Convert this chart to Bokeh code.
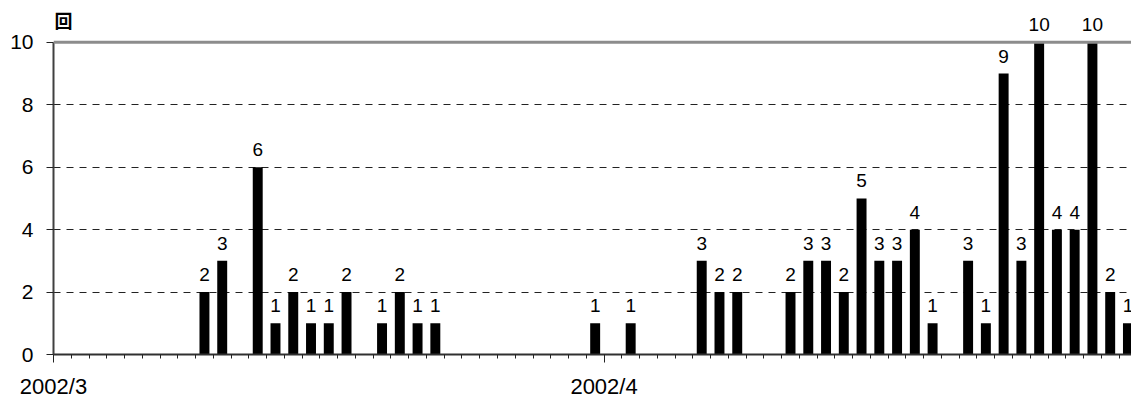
import datetime as dt
from bokeh.plotting import figure
from bokeh.models import ColumnDataSource, Range1d, FixedTicker, Span, Label
from bokeh.core.properties import value
from bokeh.embed import file_html
from bokeh.resources import INLINE

# ---- data ----
start_date = "2002-03-01"
n_days = 61
dates = ["2002-03-09", "2002-03-10", "2002-03-12", "2002-03-13", "2002-03-14",
         "2002-03-15", "2002-03-16", "2002-03-17", "2002-03-19", "2002-03-20",
         "2002-03-21", "2002-03-22", "2002-03-31", "2002-04-02", "2002-04-06",
         "2002-04-07", "2002-04-08", "2002-04-11", "2002-04-12", "2002-04-13",
         "2002-04-14", "2002-04-15", "2002-04-16", "2002-04-17", "2002-04-18",
         "2002-04-19", "2002-04-21", "2002-04-22", "2002-04-23", "2002-04-24",
         "2002-04-25", "2002-04-26", "2002-04-27", "2002-04-28", "2002-04-29",
         "2002-04-30"]
counts = [2, 3, 6, 1, 2, 1, 1, 2, 1, 2, 1, 1, 1, 1, 3, 2, 2, 2, 3, 3, 2, 5, 3, 3, 4,
          1, 3, 1, 9, 3, 10, 4, 4, 10, 2, 1]
month_starts = ["2002-03-01", "2002-04-01"]
month_labels = ["2002/3", "2002/4"]
y_ticks = [0, 2, 4, 6, 8, 10]
unit_label = "回"

d0 = dt.date.fromisoformat(start_date)
def day_index(s):
    return (dt.date.fromisoformat(s) - d0).days

xs = [day_index(d) + 0.5 for d in dates]
src = ColumnDataSource(dict(x=xs, y=counts, lbl=[str(c) for c in counts]))
major = [day_index(m) for m in month_starts]

FONT = "Liberation Sans"

p = figure(width=1131, height=401, output_backend="svg", toolbar_location=None,
           x_range=Range1d(0, 60.7), y_range=Range1d(0, 11.34),
           min_border_left=53, min_border_right=0, min_border_top=0,
           min_border_bottom=45)
p.outline_line_color = None
p.background_fill_color = "white"
p.border_fill_color = "white"

p.vbar(x="x", top="y", width=0.56, bottom=0, source=src,
       fill_color="black", line_color=None)
p.text(x="x", y="y", text="lbl", source=src, text_align="center",
       text_baseline="bottom", y_offset=-11, text_font=value(FONT),
       text_font_size="19px", text_color="black")

# grid
p.xgrid.visible = False
p.ygrid.ticker = FixedTicker(ticks=[t for t in y_ticks if 0 < t < max(y_ticks)])
p.ygrid.grid_line_color = "#222222"
p.ygrid.grid_line_dash = "7 6"
p.ygrid.grid_line_width = 1
p.add_layout(Span(location=max(y_ticks), dimension="width", line_color="#8c8c8c",
                  line_width=3))

# y axis
ya = p.yaxis[0]
ya.ticker = FixedTicker(ticks=y_ticks)
ya.bounds = (0, max(y_ticks))
ya.axis_line_color = "#404040"
ya.axis_line_width = 2
ya.major_tick_in = 0
ya.major_tick_out = 7
ya.major_tick_line_color = "#222222"
ya.minor_tick_line_color = None
ya.major_label_text_font = FONT
ya.major_label_text_font_size = "21px"
ya.major_label_text_color = "black"
ya.major_label_standoff = 13

# x axis
xa = p.xaxis[0]
xa.ticker = FixedTicker(ticks=major, minor_ticks=list(range(0, n_days + 1)))
xa.major_label_overrides = {m: l for m, l in zip(major, month_labels)}
xa.axis_line_color = "#303030"
xa.axis_line_width = 2
xa.major_tick_in = 0
xa.major_tick_out = 8
xa.minor_tick_in = 0
xa.minor_tick_out = 4
xa.major_tick_line_color = "#222222"
xa.minor_tick_line_color = "#222222"
xa.major_label_text_font = FONT
xa.major_label_text_font_size = "22px"
xa.major_label_text_color = "black"
xa.major_label_standoff = 11

p.add_layout(Label(x=0.06, y=10.72, text=unit_label, text_baseline="middle",
                   text_font="Noto Sans CJK JP", text_font_size="18px",
                   text_font_style="bold", text_color="black"))

open("out.html", "w").write(file_html(p, INLINE))
